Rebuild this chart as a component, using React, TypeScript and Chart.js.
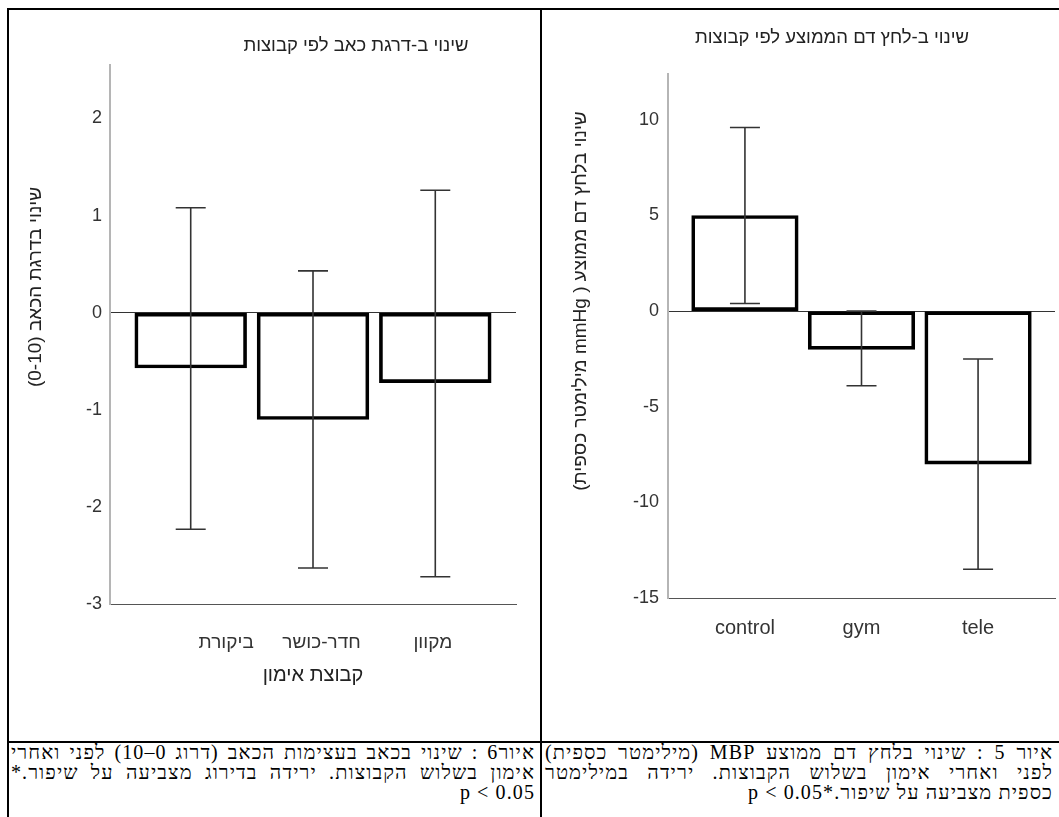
import React, { useEffect, useRef } from 'react';
import { Chart, registerables } from 'chart.js';

Chart.register(...registerables);

const FONT = "'Liberation Sans', Arial, sans-serif";
Chart.defaults.font.family = FONT;

// ---------------- data ----------------
// Figure 6: change in pain score (0-10)
const painGroups = ['ביקורת', 'חדר-כושר', 'מקוון'];
const painMeans = [-0.57, -1.1, -0.72];
const painLow = [-2.23, -2.63, -2.72];
const painHigh = [1.08, 0.43, 1.26];
const painTicks = [2, 1, 0, -1, -2, -3];

// Figure 5: change in mean blood pressure (mmHg)
const mbpGroups = ['control', 'gym', 'tele'];
const mbpMeans = [5.0, -2.0, -8.0];
const mbpLow = [0.4, -3.9, -13.5];
const mbpHigh = [9.6, 0.0, -2.5];
const mbpTicks = [10, 5, 0, -5, -10, -15];

// ---------------- texts ----------------
const painTitle = 'שינוי ב-דרגת כאב לפי קבוצות';
const painYTitle = 'שינוי בדרגת הכאב (0-10)';
const painXTitle = 'קבוצת אימון';
const mbpTitle = 'שינוי ב-לחץ דם הממוצע לפי קבוצות';
const mbpYTitle = 'שינוי בלחץ דם ממוצע ( mmHg מילימטר כספית)';

const painCaption = [
  'איור6 : שינוי בכאב בעצימות הכאב (דרוג 0–10) לפני ואחרי',
  'אימון בשלוש הקבוצות. ירידה בדירוג מצביעה על שיפור.*',
  'p < 0.05',
];
const mbpCaption = [
  'איור 5 : שינוי בלחץ דם ממוצע MBP (מילימטר כספית)',
  'לפני ואחרי אימון בשלוש הקבוצות. ירידה במילימטר',
  'כספית מצביעה על שיפור.*p < 0.05',
];

// ---------------- layout (styling only) ----------------
type Spec = {
  groups: string[]; means: number[]; low: number[]; high: number[];
  yTicks: number[]; yMin: number; yMax: number; labelAt: number[];
  title: string; yTitle: string; xTitle?: string;
  w: number; h: number;
  pad: { top: number; right: number; bottom: number };
  yWidth: number; xHeight: number;
  titlePos: [number, number]; yTitlePos: [number, number];
  xTickPad: number; yTickPad: number; xTitlePadBottom: number;
  xFont: number;
};

const painSpec: Spec = {
  groups: painGroups, means: painMeans, low: painLow, high: painHigh,
  yTicks: painTicks, yMin: -3, yMax: 2.55, labelAt: [0.29, 1.07, 1.98],
  title: painTitle, yTitle: painYTitle, xTitle: painXTitle,
  w: 528, h: 730,
  pad: { top: 55, right: 22, bottom: 46 },
  yWidth: 100, xHeight: 90,
  titlePos: [346, 36], yTitlePos: [26, 277],
  xTickPad: 19, yTickPad: 8, xTitlePadBottom: 7, xFont: 19,
};

const mbpSpec: Spec = {
  groups: mbpGroups, means: mbpMeans, low: mbpLow, high: mbpHigh,
  yTicks: mbpTicks, yMin: -15, yMax: 12.4, labelAt: [0, 1, 2],
  title: mbpTitle, yTitle: mbpYTitle,
  w: 516, h: 730,
  pad: { top: 64, right: 4, bottom: 92 },
  yWidth: 125, xHeight: 50,
  titlePos: [289, 28], yTitlePos: [38, 291],
  xTickPad: 10, yTickPad: 9, xTitlePadBottom: 0, xFont: 20,
};

function textPlugin(s: Spec) {
  return {
    id: 'customTexts',
    afterDraw(chart: any) {
      const ctx = chart.ctx as CanvasRenderingContext2D;
      ctx.save();
      ctx.fillStyle = '#222';
      ctx.textAlign = 'center';
      ctx.textBaseline = 'middle';
      (ctx as any).direction = 'rtl';
      ctx.font = `18.5px ${FONT}`;
      ctx.fillText(s.title, s.titlePos[0], s.titlePos[1]);
      ctx.translate(s.yTitlePos[0], s.yTitlePos[1]);
      ctx.rotate(-Math.PI / 2);
      ctx.font = `19px ${FONT}`;
      ctx.fillText(s.yTitle, 0, 0);
      ctx.restore();
    },
  };
}

function errorBarPlugin(s: Spec) {
  return {
    id: 'errorBars',
    afterDatasetsDraw(chart: any) {
      const ctx = chart.ctx as CanvasRenderingContext2D;
      const x = chart.scales.x;
      const y = chart.scales.y;
      const cap = 15;
      ctx.save();
      ctx.strokeStyle = '#333';
      ctx.lineWidth = 1.6;
      s.low.forEach((lo, i) => {
        const px = x.getPixelForValue(i);
        const yl = y.getPixelForValue(lo);
        const yh = y.getPixelForValue(s.high[i]);
        ctx.beginPath();
        ctx.moveTo(px, yl);
        ctx.lineTo(px, yh);
        ctx.moveTo(px - cap, yl);
        ctx.lineTo(px + cap, yl);
        ctx.moveTo(px - cap, yh);
        ctx.lineTo(px + cap, yh);
        ctx.stroke();
      });
      ctx.restore();
    },
  };
}

function buildConfig(s: Spec): any {
  return {
    type: 'bar',
    data: {
      datasets: [
        {
          data: s.means.map((v, i) => ({ x: i, y: v })),
          backgroundColor: 'rgba(255,255,255,0)',
          borderColor: '#000',
          borderWidth: 3,
          borderSkipped: false,
          barThickness: 'flex',
          categoryPercentage: 1,
          barPercentage: 0.914,
        },
      ],
    },
    options: {
      animation: false,
      responsive: false,
      devicePixelRatio: 1,
      layout: { padding: { left: 0, top: s.pad.top, right: s.pad.right, bottom: s.pad.bottom } },
      plugins: { legend: { display: false }, tooltip: { enabled: false }, title: { display: false } },
      scales: {
        x: {
          type: 'linear',
          min: -0.66,
          max: 2.66,
          offset: false,
          grid: { display: false },
          border: { display: true, color: '#555', width: 1 },
          afterBuildTicks: (sc: any) => {
            sc.ticks = s.labelAt.map((v) => ({ value: v }));
          },
          afterFit: (sc: any) => {
            sc.height = s.xHeight;
          },
          ticks: {
            autoSkip: false,
            maxRotation: 0,
            callback: (_v: any, i: number) => s.groups[i],
            font: { size: s.xFont },
            color: '#333',
            padding: s.xTickPad,
          },
          title: s.xTitle
            ? { display: true, text: s.xTitle, font: { size: 20 }, color: '#222', padding: { top: 0, bottom: s.xTitlePadBottom } }
            : { display: false },
        },
        y: {
          type: 'linear',
          min: s.yMin,
          max: s.yMax,
          afterBuildTicks: (sc: any) => {
            sc.ticks = s.yTicks.map((v) => ({ value: v }));
          },
          afterFit: (sc: any) => {
            sc.width = s.yWidth;
          },
          grid: {
            drawTicks: false,
            lineWidth: 1,
            color: (c: any) => (c.tick && c.tick.value === 0 ? '#333' : 'rgba(0,0,0,0)'),
          },
          border: { display: true, color: '#b5b5b5', width: 2 },
          ticks: {
            autoSkip: false,
            font: { size: 18 },
            color: '#333',
            padding: s.yTickPad,
            callback: (v: any) => String(v),
          },
        },
      },
    },
    plugins: [textPlugin(s), errorBarPlugin(s)],
  };
}

function BarChart({ spec, left, top }: { spec: Spec; left: number; top: number }) {
  const ref = useRef<HTMLCanvasElement | null>(null);
  useEffect(() => {
    if (!ref.current) return;
    const chart = new Chart(ref.current, buildConfig(spec));
    return () => chart.destroy();
  }, [spec]);
  return (
    <canvas
      ref={ref}
      width={spec.w}
      height={spec.h}
      style={{ position: 'absolute', left, top, width: spec.w, height: spec.h }}
    />
  );
}

function Caption({ lines, left, width }: { lines: string[]; left: number; width: number }) {
  return (
    <div
      dir="rtl"
      style={{
        position: 'absolute',
        left,
        top: 742,
        width,
        fontFamily: "'Liberation Serif', 'Times New Roman', serif",
        fontSize: 20,
        letterSpacing: 1.1,
        lineHeight: '20px',
        color: '#000',
      }}
    >
      {lines.map((t, i) => (
        <div
          key={i}
          style={
            i < lines.length - 1
              ? { textAlign: 'justify', textAlignLast: 'justify' as any }
              : { textAlign: 'right' }
          }
        >
          {t}
        </div>
      ))}
    </div>
  );
}

const line = (l: number, t: number, w: number, h: number) => (
  <div style={{ position: 'absolute', left: l, top: t, width: w, height: h, background: '#000' }} />
);

export default function App() {
  return (
    <div
      style={{
        position: 'absolute',
        left: 0,
        top: 0,
        width: 1059,
        height: 817,
        overflow: 'hidden',
        background: '#fff',
      }}
    >
      <BarChart spec={painSpec} left={10} top={10} />
      <BarChart spec={mbpSpec} left={543} top={10} />
      {line(7, 8, 1060, 2)}
      {line(7, 8, 2, 820)}
      {line(540, 8, 2, 820)}
      {line(7, 741, 1060, 2)}
      <Caption lines={painCaption} left={11} width={524} />
      <Caption lines={mbpCaption} left={545} width={508} />
    </div>
  );
}
